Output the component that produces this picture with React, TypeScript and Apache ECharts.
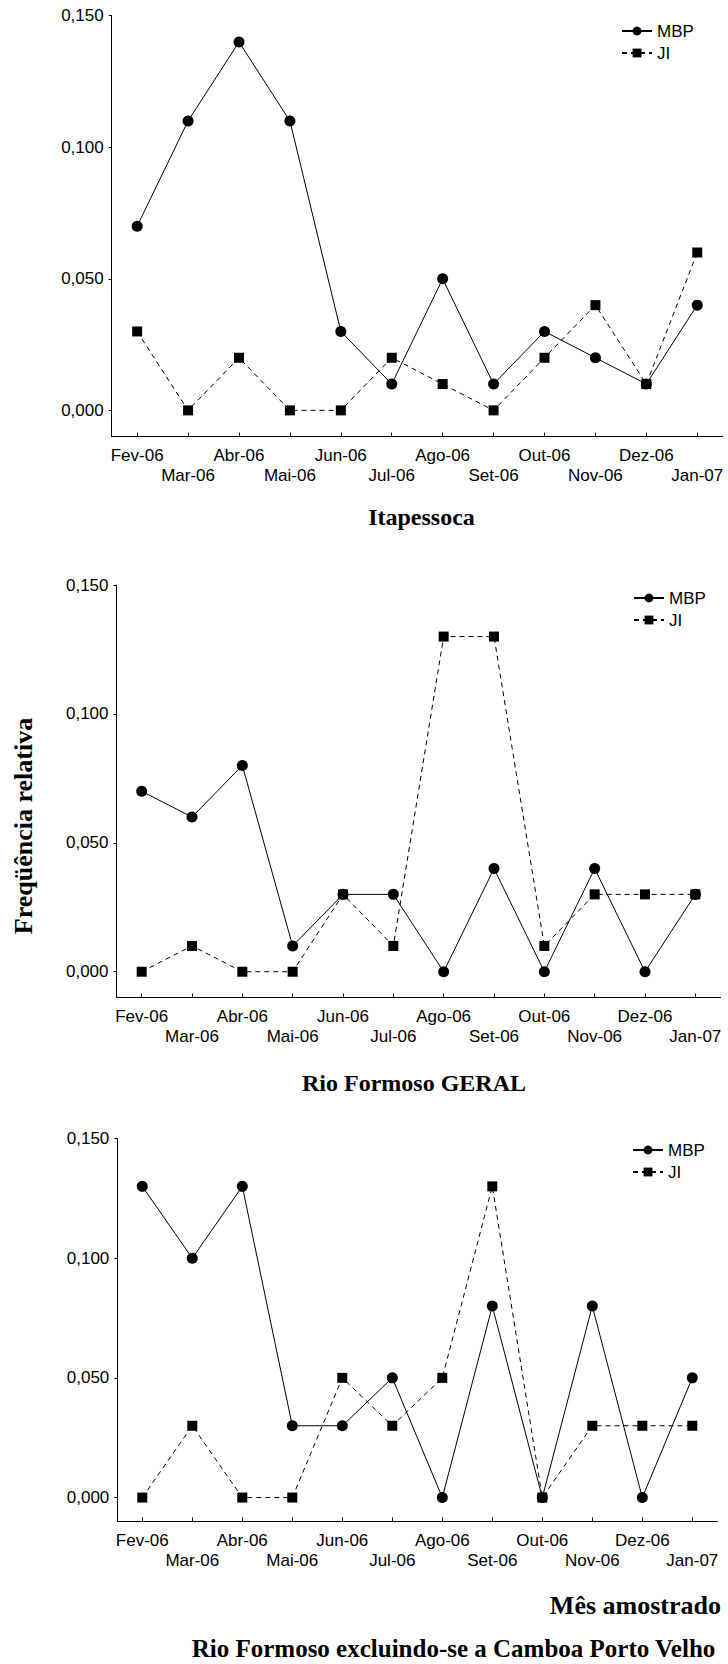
import React, { useEffect, useRef } from "react";
import * as echarts from "echarts";

const months = ["Fev-06", "Mar-06", "Abr-06", "Mai-06", "Jun-06", "Jul-06", "Ago-06", "Set-06", "Out-06", "Nov-06", "Dez-06", "Jan-07"];
const yTicks = [0, 0.05, 0.1, 0.15];

// Itapessoca
const itapMBP = [0.07, 0.11, 0.14, 0.11, 0.03, 0.01, 0.05, 0.01, 0.03, 0.02, 0.01, 0.04];
const itapJI = [0.03, 0.0, 0.02, 0.0, 0.0, 0.02, 0.01, 0.0, 0.02, 0.04, 0.01, 0.06];

// Rio Formoso GERAL
const geralMBP = [0.07, 0.06, 0.08, 0.01, 0.03, 0.03, 0.0, 0.04, 0.0, 0.04, 0.0, 0.03];
const geralJI = [0.0, 0.01, 0.0, 0.0, 0.03, 0.01, 0.13, 0.13, 0.01, 0.03, 0.03, 0.03];

// Rio Formoso excluindo-se a Camboa Porto Velho
const exclMBP = [0.13, 0.1, 0.13, 0.03, 0.03, 0.05, 0.0, 0.08, 0.0, 0.08, 0.0, 0.05];
const exclJI = [0.0, 0.03, 0.0, 0.0, 0.05, 0.03, 0.05, 0.13, 0.0, 0.03, 0.03, 0.03];

const SANS = '"Liberation Sans", Arial, sans-serif';
const SERIF = '"Liberation Serif", "Times New Roman", serif';

export default function App() {
  const ref = useRef<HTMLDivElement>(null);

  useEffect(() => {
    if (!ref.current) return;
    const chart = echarts.init(ref.current, null, { renderer: "svg" });

    const grids = [
      { left: 111.7, top: 15.7, width: 611, height: 421 },
      { left: 116.5, top: 585, width: 604, height: 412.5 },
      { left: 117.3, top: 1138.5, width: 600, height: 383 },
    ];

    const xAxes = grids.map((_, i) => ({
      type: "category",
      gridIndex: i,
      data: months,
      boundaryGap: true,
      axisLine: { show: true, onZero: false, lineStyle: { color: "#000", width: 1 } },
      axisTick: { show: true, inside: true, length: 4, alignWithLabel: true, lineStyle: { color: "#000" } },
      axisLabel: {
        interval: 0,
        margin: 9,
        color: "#000",
        fontFamily: SANS,
        fontSize: 17,
        lineHeight: 20,
        formatter: (v: string, idx: number) => (idx % 2 === 1 ? "\n" + v : v),
      },
      splitLine: { show: false },
    }));

    const yAxes = grids.map((_, i) => ({
      type: "value",
      gridIndex: i,
      min: -0.01,
      max: 0.15,
      axisLine: { show: true, onZero: false, lineStyle: { color: "#000", width: 1 } },
      axisTick: { show: true, length: 3, customValues: yTicks, lineStyle: { color: "#000" } },
      axisLabel: {
        customValues: yTicks,
        margin: 8,
        color: "#000",
        fontFamily: SANS,
        fontSize: 17,
        formatter: (v: number) => v.toFixed(3).replace(".", ","),
      },
      splitLine: { show: false },
    }));

    const mk = (name: string, data: number[], idx: number) =>
      name === "MBP"
        ? {
            name,
            type: "line",
            xAxisIndex: idx,
            yAxisIndex: idx,
            data,
            symbol: "circle",
            symbolSize: 11,
            lineStyle: { color: "#000", width: 1, type: "solid" },
            itemStyle: { color: "#000" },
          }
        : {
            name,
            type: "line",
            xAxisIndex: idx,
            yAxisIndex: idx,
            data,
            symbol: "rect",
            symbolSize: 10,
            lineStyle: { color: "#000", width: 1, type: [5, 4] },
            itemStyle: { color: "#000" },
          };

    const series = [
      mk("JI", itapJI, 0),
      mk("MBP", itapMBP, 0),
      mk("MBP", geralMBP, 1),
      mk("JI", geralJI, 1),
      mk("MBP", exclMBP, 2),
      mk("JI", exclJI, 2),
    ];

    const legendPos = [
      { left: 621, top: 21 },
      { left: 633, top: 588 },
      { left: 632, top: 1140 },
    ];
    const legends = legendPos.map((p) => ({
      data: ["MBP", "JI"],
      orient: "vertical",
      left: p.left,
      top: p.top,
      padding: 0,
      itemWidth: 30,
      itemHeight: 11,
      itemGap: 2,
      selectedMode: false,
      textStyle: { color: "#000", fontFamily: SANS, fontSize: 17, lineHeight: 20 },
    }));

    const titleStyle = (size: number) => ({
      fill: "#000",
      fontFamily: SERIF,
      fontWeight: "bold",
      fontSize: size,
    });

    chart.setOption({
      animation: false,
      backgroundColor: "#fff",
      grid: grids,
      xAxis: xAxes,
      yAxis: yAxes,
      legend: legends,
      series,
      graphic: [
        {
          type: "text",
          x: 421.5,
          y: 517,
          style: { ...titleStyle(24), text: "Itapessoca", align: "center", verticalAlign: "middle" },
        },
        {
          type: "text",
          x: 414,
          y: 1082.7,
          style: { ...titleStyle(24), text: "Rio Formoso GERAL", align: "center", verticalAlign: "middle" },
        },
        {
          type: "text",
          x: 23.5,
          y: 826,
          rotation: Math.PI / 2,
          style: { ...titleStyle(26), text: "Freqüência relativa", align: "center", verticalAlign: "middle" },
        },
        {
          type: "text",
          x: 721,
          y: 1605,
          style: { ...titleStyle(26), text: "Mês amostrado", align: "right", verticalAlign: "middle" },
        },
        {
          type: "text",
          x: 453.5,
          y: 1648,
          style: {
            ...titleStyle(25),
            text: "Rio Formoso excluindo-se a Camboa Porto Velho",
            align: "center",
            verticalAlign: "middle",
          },
        },
      ],
    });

    return () => chart.dispose();
  }, []);

  return (
    <div
      ref={ref}
      style={{ position: "absolute", left: 0, top: 0, width: 728, height: 1664, background: "#fff" }}
    />
  );
}
